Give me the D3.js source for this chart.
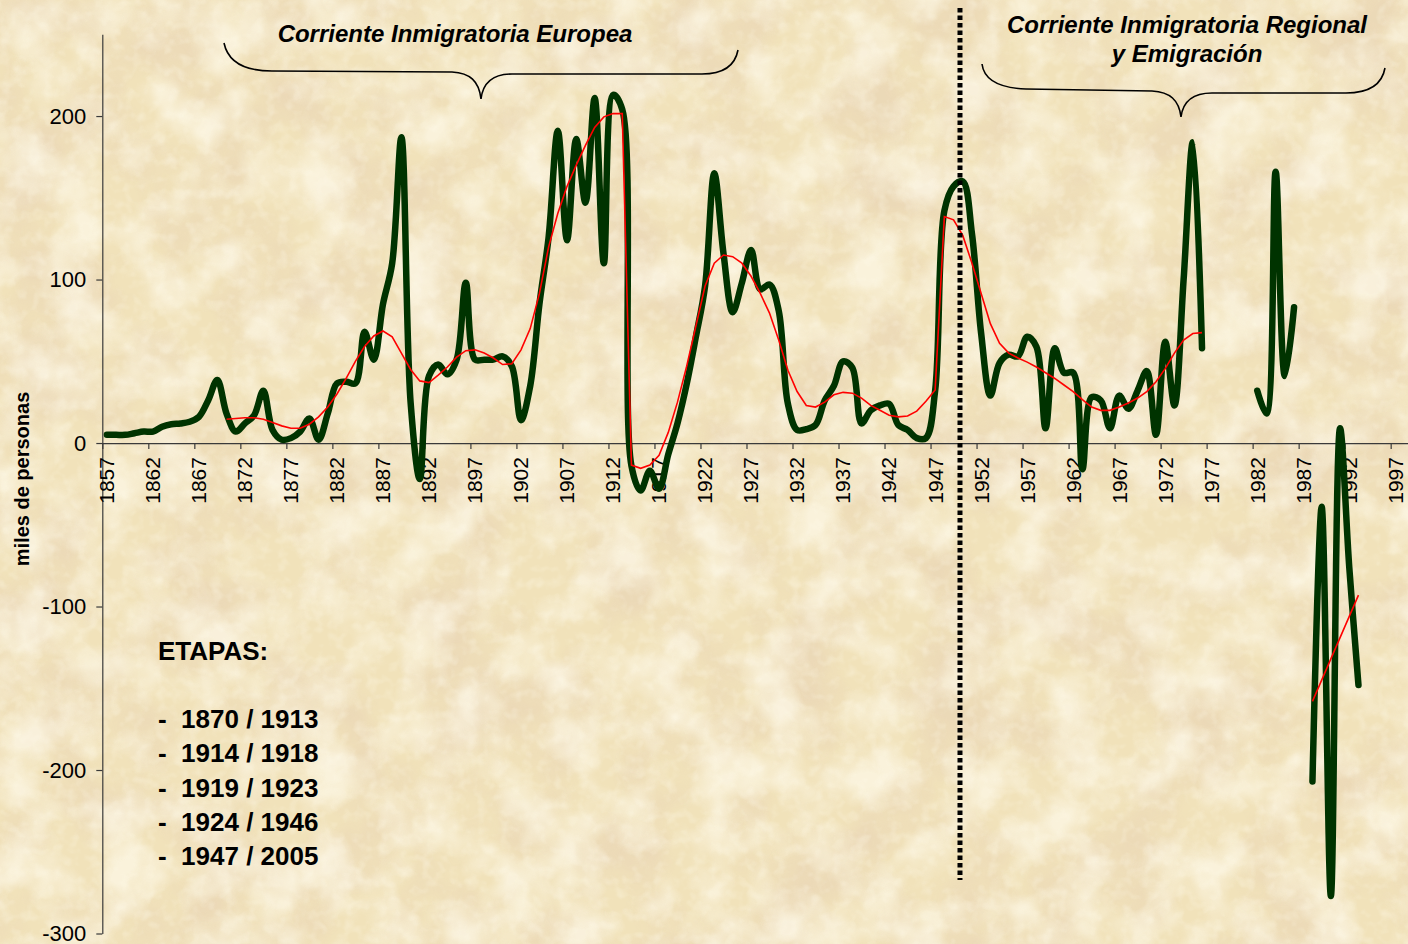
<!DOCTYPE html>
<html lang="es">
<head>
<meta charset="UTF-8">
<title>Saldo migratorio</title>
<script src="https://d3js.org/d3.v7.min.js"></script>
<style>
  html, body { margin: 0; padding: 0; background: #f1e2ba; overflow: hidden; }
  svg { display: block; font-family: "Liberation Sans", Arial, sans-serif; }
  .axis path, .axis line { stroke: #3a3a3a; stroke-width: 1.2px; }
  .axis text { fill: #000; font-size: 22px; font-family: "Liberation Sans", Arial, sans-serif; }
</style>
</head>
<body>
<div id="chart"></div>
<script>
// Saldo migratorio anual (miles de personas), 1857-1993; null = sin dato
var years = d3.range(1857, 1994);
var saldo = [
  5, 5, 5, 6, 7, 7, 10, 11.5, 12, 13,                 // 1857-1866
  16, 26, 38.5, 18, 7, 12, 17, 32, 8, 2,              // 1867-1876
  3, 7, 15, 2, 18, 36.5, 37.5, 36.5, 68, 51,          // 1877-1886
  85, 110, 187, 25, -22, 41, 48, 42, 51, 98,          // 1887-1896
  51, 51, 51, 53, 47, 14, 35, 85, 126, 191,           // 1897-1906
  124, 186, 147, 211, 110, 213, 204, -14, -29, -17,   // 1907-1916
  -28, -7, 12, 36, 65, 96, 165, 116, 80, 98,          // 1917-1926
  118, 94, 97, 81, 24, 8, 8.5, 11, 26, 35,            // 1927-1936
  50, 46, 12, 20, 23, 24, 11, 8, 3, 3,                // 1937-1946
  32, 142, 157, 160, 128, 67, 29, 49, 54, 53,         // 1947-1956
  65, 59, 9, 58, 43, 43, -16, 28, 26, 9,              // 1957-1966
  29, 21, 32, 44, 5, 62, 23, 100, 184, 58,            // 1967-1976
  null, null, null, null, null, 32, 18, 166, 41, 83,  // 1977-1986
  null, -207, -39, -277, 9, -76, -148                 // 1987-1993
];
// Media movil (linea roja)
var mediaMovil = [
  null, null, null, null, null, null, null, null, null, null,   // 1857-1866
  null, null, null, 14.5, 15, 15.5, 15.5, 14.5, 12.5, 10.5,     // 1867-1876
  9, 9, 11.5, 16, 22, 30, 39.5, 50, 59, 65.5,                   // 1877-1886
  68.5, 65, 55, 45, 38, 37, 41.5, 46.5, 52.5, 56.5,             // 1887-1896
  57, 55, 52, 48, 48.5, 57, 70, 91.5, 120, 140.5,               // 1897-1906
  157, 170, 182, 193, 199.5, 201.5, 201.5, -13.5, -15.5, -13.5, // 1907-1916
  -7.5, 6.5, 25, 47, 71.5, 96, 110, 115, 114, 110,              // 1917-1926
  102, 91.5, 79.5, 63, 44.5, 31.5, 23, 22, 25, 29.5,            // 1927-1936
  31, 30.5, 27.5, 23, 20, 17, 16, 16.5, 19.5, 25.5,             // 1937-1946
  32.5, 138.5, 136.5, 127, 110, 91.5, 73, 61, 55, 52,           // 1947-1956
  49.5, 46.5, 43, 39.5, 35.5, 31.5, 26.5, 22, 20, 20,           // 1957-1966
  22, 24.5, 27.5, 31.5, 37.5, 45.5, 55, 63, 67, 67.5,           // 1967-1976
  null, null, null, null, null, null, null, null, null, null,   // 1977-1986
  null, -158, -145, -132, -119, -106, -93                       // 1987-1993
];
var xTickYears = d3.range(1857, 2003, 5);
var xLabelYears = d3.range(1857, 1998, 5);
var yTickValues = [-300, -200, -100, 0, 100, 200];
var etapas = ["1870 / 1913", "1914 / 1918", "1919 / 1923", "1924 / 1946", "1947 / 2005"];
var corteAnio = 1950.2;

var W = 1408, H = 944;

// Escalas: cada año ocupa una categoría, el punto va al centro
var x = d3.scaleLinear().domain([1857, 2006]).range([102.3, 1473.5]);
var y = d3.scaleLinear().domain([-300, 250]).range([933.5, 34.3]);

var svg = d3.select("#chart").append("svg")
  .attr("width", W)
  .attr("height", H);

// Fondo tipo pergamino
var defs = svg.append("defs");
var f1 = defs.append("filter").attr("id", "manchas")
  .attr("x", 0).attr("y", 0).attr("width", "100%").attr("height", "100%");
f1.append("feTurbulence").attr("type", "fractalNoise")
  .attr("baseFrequency", "0.012").attr("numOctaves", 4).attr("seed", 7);
f1.append("feColorMatrix").attr("type", "matrix")
  .attr("values", "0 0 0 0 0.82  0 0 0 0 0.67  0 0 0 0 0.47  2.6 0 0 0 -1.05");
var f3 = defs.append("filter").attr("id", "claros")
  .attr("x", 0).attr("y", 0).attr("width", "100%").attr("height", "100%");
f3.append("feTurbulence").attr("type", "fractalNoise")
  .attr("baseFrequency", "0.02").attr("numOctaves", 3).attr("seed", 11);
f3.append("feColorMatrix").attr("type", "matrix")
  .attr("values", "0 0 0 0 0.99  0 0 0 0 0.95  0 0 0 0 0.82  0 2.6 0 0 -1.05");
var f2 = defs.append("filter").attr("id", "grano")
  .attr("x", 0).attr("y", 0).attr("width", "100%").attr("height", "100%");
f2.append("feTurbulence").attr("type", "fractalNoise")
  .attr("baseFrequency", "0.09").attr("numOctaves", 2).attr("seed", 3);
f2.append("feColorMatrix").attr("type", "matrix")
  .attr("values", "0 0 0 0 1  0 0 0 0 0.97  0 0 0 0 0.85  0 1.6 0 0 -0.75");

svg.append("rect").attr("width", W).attr("height", H).attr("fill", "#f1e2ba");
svg.append("rect").attr("width", W).attr("height", H).attr("filter", "url(#manchas)").attr("opacity", 0.75);
svg.append("rect").attr("width", W).attr("height", H).attr("filter", "url(#claros)").attr("opacity", 0.7);
svg.append("rect").attr("width", W).attr("height", H).attr("filter", "url(#grano)").attr("opacity", 0.5);

// Eje Y
svg.append("g")
  .attr("class", "axis")
  .attr("transform", "translate(" + x(1857) + ",0)")
  .call(d3.axisLeft(y).tickValues(yTickValues).tickSize(6).tickSizeOuter(0).tickPadding(10)
    .tickFormat(function (d) { return String(d); }));

// Eje X en el cero
svg.append("g")
  .attr("class", "axis")
  .attr("transform", "translate(0," + y(0) + ")")
  .call(d3.axisBottom(x).tickValues(xTickYears).tickSize(6).tickSizeOuter(0).tickFormat(""));

svg.append("g")
  .selectAll("text")
  .data(xLabelYears)
  .enter().append("text")
  .attr("transform", function (d) { return "translate(" + x(d + 0.5) + "," + (y(0) + 14) + ") rotate(-90)"; })
  .attr("text-anchor", "end")
  .attr("dy", "0.35em")
  .attr("font-size", "21px")
  .attr("fill", "#000")
  .text(function (d) { return d; });

// Titulo del eje Y
svg.append("text")
  .attr("transform", "translate(29," + 479 + ") rotate(-90)")
  .attr("text-anchor", "middle")
  .attr("font-size", "20px")
  .attr("font-weight", "bold")
  .text("miles de personas");

// Serie principal (verde, suavizada)
var serie = years.map(function (yr, i) { return { year: yr, v: saldo[i] }; });
var media = years.map(function (yr, i) { return { year: yr, v: mediaMovil[i] }; });

var lineaSuave = d3.line()
  .defined(function (d) { return d.v != null; })
  .curve(d3.curveCatmullRom.alpha(0.5))
  .x(function (d) { return x(d.year + 0.5); })
  .y(function (d) { return y(d.v); });

var lineaRecta = d3.line()
  .defined(function (d) { return d.v != null; })
  .x(function (d) { return x(d.year + 0.5); })
  .y(function (d) { return y(d.v); });

svg.append("path")
  .datum(serie)
  .attr("fill", "none")
  .attr("stroke", "#003300")
  .attr("stroke-width", 6.5)
  .attr("stroke-linecap", "round")
  .attr("stroke-linejoin", "round")
  .attr("d", lineaSuave);

svg.append("path")
  .datum(media)
  .attr("fill", "none")
  .attr("stroke", "#ff0000")
  .attr("stroke-width", 1.6)
  .attr("d", lineaRecta);

// Linea punteada de corte
svg.append("line")
  .attr("x1", x(corteAnio)).attr("x2", x(corteAnio))
  .attr("y1", 8).attr("y2", 880)
  .attr("stroke", "#000")
  .attr("stroke-width", 5)
  .attr("stroke-dasharray", "4.5,3");

// Llaves y titulos de las etapas
function llave(g, d) {
  g.append("path")
    .attr("d", d)
    .attr("fill", "none")
    .attr("stroke", "#000")
    .attr("stroke-width", 1.6);
}
llave(svg, "M224,43 C228,62 245,71 272,71 L452,72 C470,73 479,81 481,99 C483,82 493,74 512,74 L702,74 C722,74 735,66 738,50");
llave(svg, "M982,64 C984,80 999,88 1026,89 L1152,91 C1170,92 1179,100 1181,117 C1183,101 1193,93 1212,93 L1346,93 C1368,93 1382,85 1385,68");

var titulos = svg.append("g")
  .attr("font-size", "24px")
  .attr("font-weight", "bold")
  .attr("font-style", "italic")
  .attr("text-anchor", "middle");
titulos.append("text").attr("x", 455).attr("y", 42).text("Corriente Inmigratoria Europea");
titulos.append("text").attr("x", 1187).attr("y", 33).text("Corriente Inmigratoria Regional");
titulos.append("text").attr("x", 1187).attr("y", 62).text("y Emigración");

// Cuadro de etapas
var cuadro = svg.append("g")
  .attr("font-size", "26px")
  .attr("font-weight", "bold");
cuadro.append("text").attr("x", 158).attr("y", 660).text("ETAPAS:");
cuadro.selectAll("text.etapa")
  .data(etapas)
  .enter().append("text")
  .attr("class", "etapa")
  .attr("x", 158)
  .attr("y", function (d, i) { return 728 + i * 34.3; })
  .attr("xml:space", "preserve")
  .text(function (d) { return "-  " + d; });
</script>
</body>
</html>
